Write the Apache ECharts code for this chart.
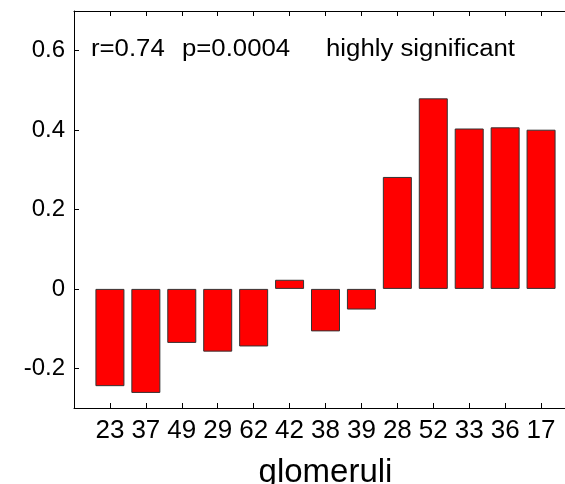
<!DOCTYPE html>
<html>
<head>
<meta charset="utf-8">
<script src="https://cdn.jsdelivr.net/npm/echarts@6/dist/echarts.min.js"></script>
<style>
html,body{margin:0;padding:0;background:#fff;}
#c{width:565px;height:484px;}
</style>
</head>
<body>
<div id="c"></div>
<script>
const categories = ['23','37','49','29','62','42','38','39','28','52','33','36','17'];
const values = [-0.245,-0.262,-0.136,-0.158,-0.145,0.023,-0.107,-0.052,0.282,0.480,0.404,0.407,0.401];
const yTicks = [-0.2,0,0.2,0.4,0.6];
const xPositions = categories.map((c,i)=>i+1);
const annotR = 'r=0.74';
const annotP = 'p=0.0004';
const annotSig = 'highly significant';
const xName = 'glomeruli';

const FONT = '"Liberation Sans", Arial, sans-serif';
const chart = echarts.init(document.getElementById('c'), null, {renderer:'canvas'});
const axisLineStyle = {color:'#000', width:1};
chart.setOption({
  animation:false,
  backgroundColor:'#fff',
  grid:{left:74, top:11, right:-12, bottom:76, containLabel:false, outerBoundsMode:'none'},
  xAxis:[{
    type:'value', min:0, max:14, position:'bottom',
    axisLine:{show:true, onZero:false, lineStyle:axisLineStyle},
    axisTick:{show:true, inside:true, length:5, lineStyle:axisLineStyle, customValues:xPositions},
    axisLabel:{show:true, customValues:xPositions, margin:10, color:'#000', fontFamily:FONT, fontSize:26,
      formatter:v=>categories[Math.round(v)-1] || ''},
    splitLine:{show:false},
    name:xName, nameLocation:'middle', nameGap:48, nameMoveOverlap:false,
    nameTextStyle:{color:'#000', fontFamily:FONT, fontSize:33}
  },{
    type:'value', min:0, max:14, position:'top',
    axisLine:{show:true, onZero:false, lineStyle:axisLineStyle},
    axisTick:{show:true, inside:true, length:5, lineStyle:axisLineStyle, customValues:xPositions},
    axisLabel:{show:false},
    splitLine:{show:false}
  }],
  yAxis:{
    type:'value', min:-0.3, max:0.7,
    axisLine:{show:true, onZero:false, lineStyle:axisLineStyle},
    axisTick:{show:true, inside:true, length:5, lineStyle:axisLineStyle, customValues:yTicks},
    axisLabel:{show:true, customValues:yTicks, margin:9, color:'#000', fontFamily:FONT, fontSize:24,
      formatter:v=>String(Math.round(v*10)/10)},
    splitLine:{show:false}
  },
  series:[{
    type:'bar',
    xAxisIndex:0,
    data:xPositions.map((x,i)=>[x, values[i]]),
    barWidth:29,
    itemStyle:{color:'#ff0000', borderColor:'#333', borderWidth:1}
  }],
  graphic:[
    {type:'text', left:91, top:38, scaleX:1.12, style:{text:annotR, fill:'#000', font:'23px '+FONT}},
    {type:'text', left:182, top:38, scaleX:1.12, style:{text:annotP, fill:'#000', font:'23px '+FONT}},
    {type:'text', left:326, top:38, scaleX:1.12, style:{text:annotSig, fill:'#000', font:'23px '+FONT}}
  ]
});
</script>
</body>
</html>
